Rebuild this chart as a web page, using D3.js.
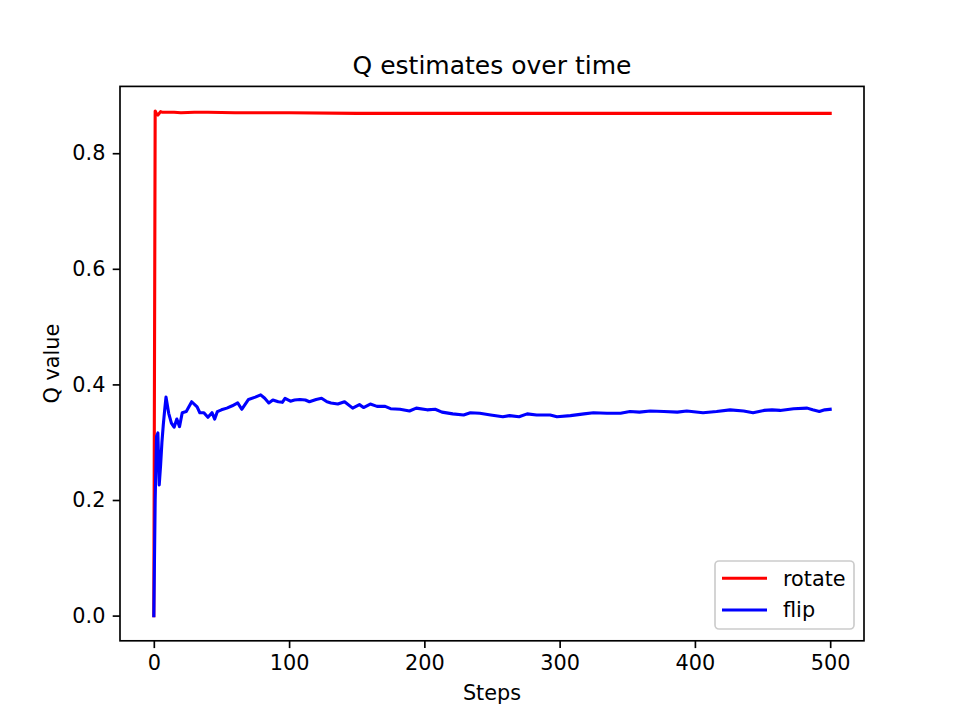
<!DOCTYPE html>
<html>
<head>
<meta charset="utf-8">
<script src="https://cdn.jsdelivr.net/npm/d3@7"></script>
<style>
    body { margin: 0; background: #fff; }
    svg { display: block; font-family: "DejaVu Sans", sans-serif; }
</style>
</head>
<body>
<div id="chart"></div>
<script>
// data
const rotateSteps = [0, 1, 2, 3, 4, 5, 6, 8, 10, 15, 20, 30, 40, 60, 100, 150, 200, 250, 300, 350, 400, 450, 500];
const rotateValues = [0, 0.873, 0.868, 0.866, 0.869, 0.872, 0.871, 0.871, 0.871, 0.871, 0.870, 0.871, 0.871, 0.870, 0.870, 0.869, 0.869, 0.869, 0.869, 0.869, 0.869, 0.869, 0.869];

const flipSteps = [0, 1, 2, 3, 4, 5, 6, 7, 8, 9, 11, 13, 15, 17, 19, 21, 24, 28, 32, 34, 37, 40, 43, 45, 47,
    50, 54, 58, 62, 65, 70, 75, 79, 82, 85, 88, 92, 95, 97, 101, 104, 108, 112, 115, 120, 124, 128, 131, 136,
    141, 147, 152, 155, 160, 165, 171, 175, 182, 189, 194, 202, 208, 213, 221, 229, 234, 241, 249, 258, 263,
    270, 276, 283, 293, 298, 308, 318, 325, 335, 345, 352, 359, 367, 377, 387, 394, 406, 416, 426, 436, 443,
    451, 457, 463, 473, 483, 487, 492, 496, 500];
const flipValues = [0, 0.200, 0.310, 0.316, 0.226, 0.260, 0.300, 0.330, 0.355, 0.378, 0.350, 0.333, 0.326, 0.340, 0.327, 0.351, 0.353, 0.370, 0.361, 0.351, 0.351, 0.343, 0.351, 0.340, 0.353,
    0.356, 0.359, 0.363, 0.368, 0.357, 0.374, 0.378, 0.382, 0.376, 0.368, 0.373, 0.370, 0.369, 0.376, 0.371, 0.373, 0.374, 0.373, 0.370, 0.374, 0.376, 0.370, 0.368, 0.366,
    0.370, 0.359, 0.365, 0.360, 0.366, 0.362, 0.362, 0.358, 0.357, 0.354, 0.359, 0.356, 0.357, 0.352, 0.349, 0.347, 0.351, 0.350, 0.347, 0.344, 0.346,
    0.344, 0.349, 0.347, 0.347, 0.344, 0.346, 0.349, 0.351, 0.350, 0.350, 0.353, 0.352, 0.354, 0.353, 0.352, 0.354, 0.351, 0.353, 0.356, 0.354, 0.351,
    0.355, 0.356, 0.355, 0.358, 0.359, 0.356, 0.353, 0.356, 0.357];

const xTicks = [0, 100, 200, 300, 400, 500];
const yTicks = [0.0, 0.2, 0.4, 0.6, 0.8];

const series = [
    {name: "rotate", color: "#ff0000", steps: rotateSteps, values: rotateValues},
    {name: "flip", color: "#0000ff", steps: flipSteps, values: flipValues}
];

const W = 960, H = 720;
const pLeft = 120, pRight = 864, pTop = 86.4, pBottom = 640.8;
const fs = 20.8, tick = 7.3;

const svg = d3.select("#chart").append("svg")
    .attr("width", W)
    .attr("height", H);

const x = d3.scaleLinear().domain([-25, 525]).range([pLeft, pRight]);
const y = d3.scaleLinear().domain([-0.0436, 0.9156]).range([pBottom, pTop]);

// lines
const line = d3.line()
    .x(d => x(d.s))
    .y(d => y(d.v));
const lines = svg.append("g").attr("class", "lines");
series.forEach(s => {
    const pts = s.steps.map((st, i) => ({s: st, v: s.values[i]}));
    lines.append("path")
        .datum(pts)
        .attr("d", line)
        .attr("fill", "none")
        .attr("stroke", s.color)
        .attr("stroke-width", 3.1)
        .attr("stroke-linejoin", "round")
        .attr("stroke-linecap", "square");
});

// axis_x
const ax = svg.append("g").attr("class", "axis_x")
    .attr("transform", `translate(0, ${pBottom})`)
    .call(d3.axisBottom(x).tickValues(xTicks).tickFormat(d3.format("d")).tickSize(tick).tickPadding(tick));
// axis_y
const ay = svg.append("g").attr("class", "axis_y")
    .attr("transform", `translate(${pLeft}, 0)`)
    .call(d3.axisLeft(y).tickValues(yTicks).tickFormat(d3.format(".1f")).tickSize(tick).tickPadding(tick));
[ax, ay].forEach(a => {
    a.select(".domain").remove();
    a.selectAll("line").attr("stroke", "#000").attr("stroke-width", 1.67);
    a.selectAll("text").attr("fill", "#000")
        .style("font-family", "DejaVu Sans")
        .style("font-size", fs + "px");
});

// spines
svg.append("rect")
    .attr("x", pLeft).attr("y", pTop)
    .attr("width", pRight - pLeft).attr("height", pBottom - pTop)
    .attr("fill", "none")
    .attr("stroke", "#000")
    .attr("stroke-width", 1.67);

// title and labels
svg.append("text")
    .text("Q estimates over time")
    .attr("x", (pLeft + pRight) / 2).attr("y", 74)
    .attr("text-anchor", "middle")
    .style("font-size", "25px");
svg.append("text")
    .text("Steps")
    .attr("x", (pLeft + pRight) / 2).attr("y", 700)
    .attr("text-anchor", "middle")
    .style("font-size", fs + "px");
svg.append("text")
    .text("Q value")
    .attr("transform", `translate(58.5, ${(pTop + pBottom) / 2}) rotate(-90)`)
    .attr("text-anchor", "middle")
    .style("font-size", fs + "px");

// legend
const legend = svg.append("g").attr("class", "legend");
legend.append("rect")
    .attr("x", 715).attr("y", 561)
    .attr("width", 139).attr("height", 68)
    .attr("rx", 4)
    .attr("fill", "#fff").attr("fill-opacity", 0.8)
    .attr("stroke", "#cccccc").attr("stroke-width", 1.67);
series.forEach((s, i) => {
    const ly = 578.3 + i * 31.7;
    legend.append("line")
        .attr("x1", 722).attr("x2", 767)
        .attr("y1", ly).attr("y2", ly)
        .attr("stroke", s.color).attr("stroke-width", 3.1);
    legend.append("text")
        .text(s.name)
        .attr("x", 783).attr("y", ly)
        .attr("dy", "0.35em")
        .style("font-size", fs + "px");
});
</script>
</body>
</html>
